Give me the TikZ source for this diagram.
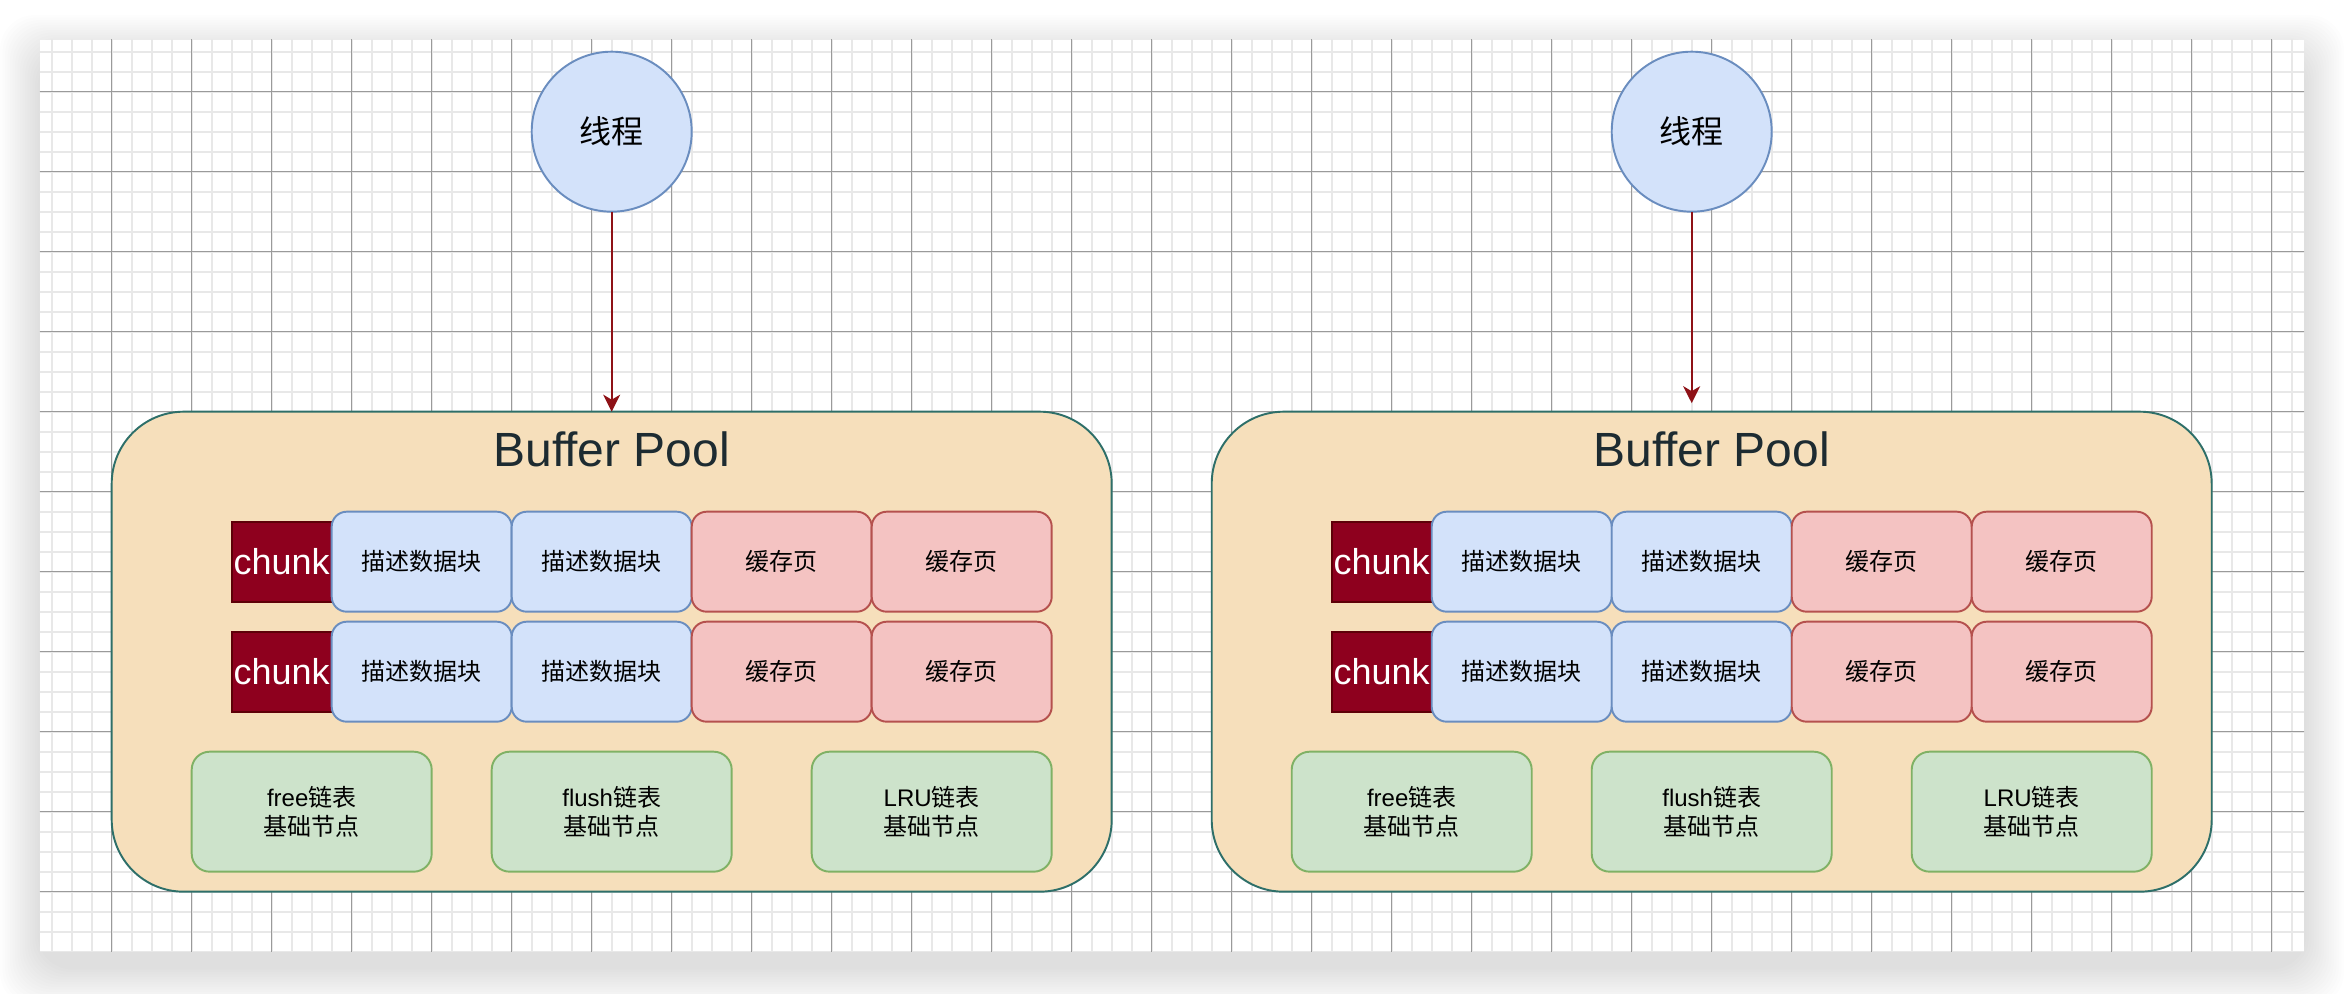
\documentclass[tikz,border=0pt]{standalone}
\usepackage{fontspec}
\setmainfont{Liberation Sans}
\newfontfamily\cjk{Noto Sans CJK SC}
\usetikzlibrary{arrows.meta}

\definecolor{poolfill}{HTML}{F6DFBB}
\definecolor{pooldraw}{HTML}{2E6F69}
\definecolor{bluefill}{HTML}{D3E2FA}
\definecolor{bluedraw}{HTML}{6A8DBF}
\definecolor{redfill}{HTML}{F4C3C2}
\definecolor{reddraw}{HTML}{B5514E}
\definecolor{greenfill}{HTML}{CDE3CB}
\definecolor{greendraw}{HTML}{80B165}
\definecolor{chunkfill}{HTML}{8E001E}
\definecolor{chunkdraw}{HTML}{5E0008}
\definecolor{arrowred}{HTML}{8E1116}
\definecolor{gridminor}{HTML}{E8E8E8}
\definecolor{gridmajor}{HTML}{9A9A9A}
\definecolor{titlecol}{HTML}{1D2B31}

\newcommand{\boxfont}{\fontsize{6.83}{8.2}\selectfont}

\begin{document}
\begin{tikzpicture}[
	minorgrid/.style={draw=gridminor, line width=0.55pt, step=0.2},
	majorgrid/.style={draw=gridmajor, line width=0.3pt, step=0.8},
	pool/.style={draw=pooldraw, fill=poolfill, line width=0.55pt, rounded corners=0.72cm, minimum width=10cm, minimum height=4.8cm, inner sep=0, outer sep=0},
	pooltitle/.style={text=titlecol, inner sep=0, font=\fontsize{13.66}{16}\selectfont},
	thread/.style={circle, draw=bluedraw, fill=bluefill, line width=0.55pt, minimum size=1.6cm, inner sep=0, outer sep=0, font=\cjk\fontsize{9.1}{11}\selectfont},
	flow/.style={draw=arrowred, line width=0.55pt, -{Stealth[length=0.17cm, width=0.17cm, inset=0.05cm]}},
	chunkbox/.style={draw=chunkdraw, fill=chunkfill, text=white, line width=0.55pt, minimum width=1cm, minimum height=0.8cm, inner sep=0, font=\fontsize{10.24}{12}\selectfont},
	descbox/.style={draw=bluedraw, fill=bluefill, line width=0.55pt, rounded corners=0.15cm, minimum width=1.8cm, minimum height=1cm, inner sep=0, font=\cjk\boxfont},
	pagebox/.style={draw=reddraw, fill=redfill, line width=0.55pt, rounded corners=0.15cm, minimum width=1.8cm, minimum height=1cm, inner sep=0, font=\cjk\boxfont},
	listbox/.style={draw=greendraw, fill=greenfill, line width=0.55pt, rounded corners=0.18cm, minimum width=2.4cm, minimum height=1.2cm, inner sep=0, align=center, font=\boxfont}
]

	\useasboundingbox (0,0) rectangle (23.44,-9.94);
	\fill[white] (0,0) rectangle (23.44,-9.94);

	% sheet shadow
	\foreach \i in {1,...,16}
		\fill[black, opacity=0.008, rounded corners=0.35cm] ({0.4-0.025*\i},{-0.55+0.025*\i}) rectangle ({23.04+0.025*\i},{-9.67-0.025*\i});

	% grid paper
	\begin{scope}
		\clip (0.4,-0.4) rectangle (23.04,-9.52);
		\fill[white] (0.4,-0.4) rectangle (23.04,-9.52);
		\draw[minorgrid, shift={(0.317,-0.117)}] (-1,-10) grid (23,1);
		\draw[majorgrid, shift={(0.317,-0.117)}] (-1,-10) grid (23,1);
	\end{scope}

	\foreach \dx/\tx/\gap/\id in {0/6.117/0/l, 11/5.917/0.085/r}{
	\begin{scope}[xshift=\dx cm]

		\node[pool] (pool\id) at (6.117,-6.517) {};
		\node[pooltitle, anchor=base] (title\id) at (6.117,-4.67) {Buffer Pool};

		\node[thread] (thread\id) at (\tx,-1.317) {线程};
		\draw[flow, shorten >=\gap cm] (thread\id) -- (thread\id |- pool\id.north);

		\foreach \r/\y in {1/-5.617, 2/-6.717}{
			\node[chunkbox] (chunk\id\r) at (2.817,\y) {chunk};
			\node[descbox] (descA\id\r) at (4.217,\y) {描述数据块};
			\node[descbox] (descB\id\r) at (6.017,\y) {描述数据块};
			\node[pagebox] (pageA\id\r) at (7.817,\y) {缓存页};
			\node[pagebox] (pageB\id\r) at (9.617,\y) {缓存页};
		}

		\node[listbox] (free\id) at (3.117,-8.117) {free{\cjk 链表}\\{\cjk 基础节点}};
		\node[listbox] (flush\id) at (6.117,-8.117) {flush{\cjk 链表}\\{\cjk 基础节点}};
		\node[listbox] (lru\id) at (9.317,-8.117) {LRU{\cjk 链表}\\{\cjk 基础节点}};

	\end{scope}
	}

\end{tikzpicture}
\end{document}
